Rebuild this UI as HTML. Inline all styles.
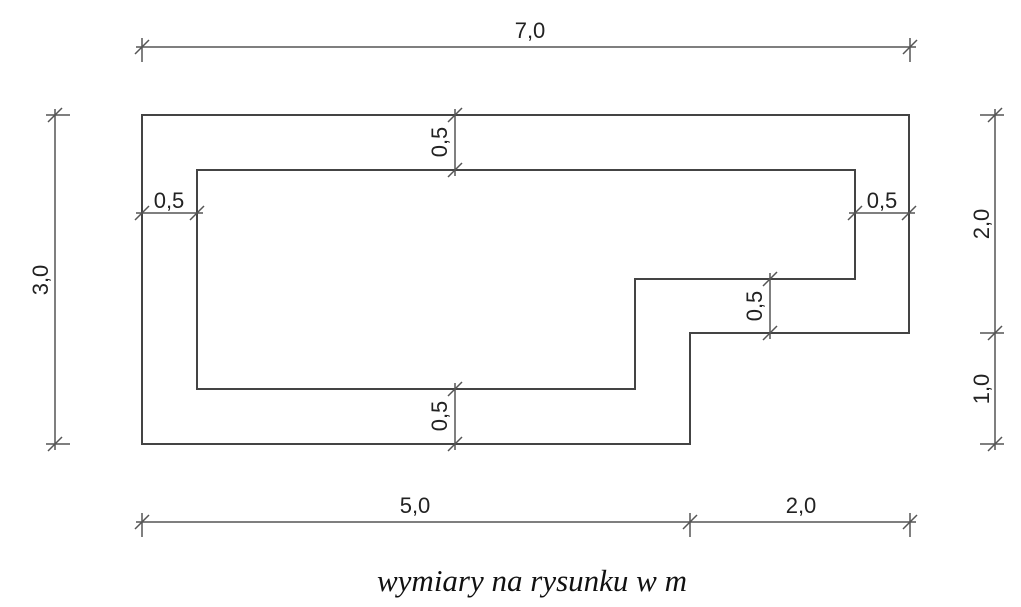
<!DOCTYPE html>
<html><head><meta charset="utf-8"><style>
html,body{margin:0;padding:0;background:#fff;}
svg{display:block;}
text{font-family:"Liberation Sans",sans-serif;font-size:22px;fill:#222;}
</style></head><body>
<svg width="1021" height="607" viewBox="0 0 1021 607" xmlns="http://www.w3.org/2000/svg">
<g stroke="#444" stroke-width="2" fill="none">
<polygon points="142,115 909,115 909,333 690,333 690,444 142,444"/>
<polygon points="197,170 855,170 855,279 635,279 635,389 197,389"/>
</g>
<g stroke="#555" stroke-width="1.5" fill="none">
<line x1="136" y1="47" x2="916" y2="47"/>
<line x1="142" y1="38" x2="142" y2="62"/><line x1="135" y1="54" x2="149" y2="40"/>
<line x1="910" y1="38" x2="910" y2="62"/><line x1="903" y1="54" x2="917" y2="40"/>
<line x1="136" y1="522" x2="916" y2="522"/>
<line x1="142" y1="513" x2="142" y2="537"/><line x1="135" y1="529" x2="149" y2="515"/>
<line x1="690" y1="513" x2="690" y2="537"/><line x1="683" y1="529" x2="697" y2="515"/>
<line x1="910" y1="513" x2="910" y2="537"/><line x1="903" y1="529" x2="917" y2="515"/>
<line x1="55" y1="109" x2="55" y2="450"/>
<line x1="46" y1="115" x2="70" y2="115"/><line x1="48" y1="122" x2="62" y2="108"/>
<line x1="46" y1="444" x2="70" y2="444"/><line x1="48" y1="451" x2="62" y2="437"/>
<line x1="995" y1="109" x2="995" y2="450"/>
<line x1="980" y1="115" x2="1004" y2="115"/><line x1="988" y1="122" x2="1002" y2="108"/>
<line x1="980" y1="333" x2="1004" y2="333"/><line x1="988" y1="340" x2="1002" y2="326"/>
<line x1="980" y1="444" x2="1004" y2="444"/><line x1="988" y1="451" x2="1002" y2="437"/>
<line x1="455" y1="109" x2="455" y2="176"/>
<line x1="448" y1="122" x2="462" y2="108"/><line x1="448" y1="177" x2="462" y2="163"/>
<line x1="455" y1="383" x2="455" y2="450"/>
<line x1="448" y1="396" x2="462" y2="382"/><line x1="448" y1="451" x2="462" y2="437"/>
<line x1="770" y1="273" x2="770" y2="339"/>
<line x1="763" y1="286" x2="777" y2="272"/><line x1="763" y1="340" x2="777" y2="326"/>
<line x1="136" y1="213" x2="203" y2="213"/>
<line x1="135" y1="220" x2="149" y2="206"/><line x1="190" y1="220" x2="204" y2="206"/>
<line x1="849" y1="213" x2="915" y2="213"/>
<line x1="848" y1="220" x2="862" y2="206"/><line x1="902" y1="220" x2="916" y2="206"/>
</g>
<text x="530" y="38" text-anchor="middle">7,0</text>
<text x="415" y="513" text-anchor="middle">5,0</text>
<text x="801" y="513" text-anchor="middle">2,0</text>
<text x="169" y="208" text-anchor="middle">0,5</text>
<text x="882" y="208" text-anchor="middle">0,5</text>
<text transform="translate(48,280) rotate(-90)" text-anchor="middle">3,0</text>
<text transform="translate(989,224) rotate(-90)" text-anchor="middle">2,0</text>
<text transform="translate(989,389) rotate(-90)" text-anchor="middle">1,0</text>
<text transform="translate(447,142) rotate(-90)" text-anchor="middle">0,5</text>
<text transform="translate(447,416) rotate(-90)" text-anchor="middle">0,5</text>
<text transform="translate(762,306) rotate(-90)" text-anchor="middle">0,5</text>
<text x="532" y="591" text-anchor="middle" style="font-family:'Liberation Serif',serif;font-style:italic;font-size:31px;fill:#111;">wymiary na rysunku w m</text>
</svg>
</body></html>
